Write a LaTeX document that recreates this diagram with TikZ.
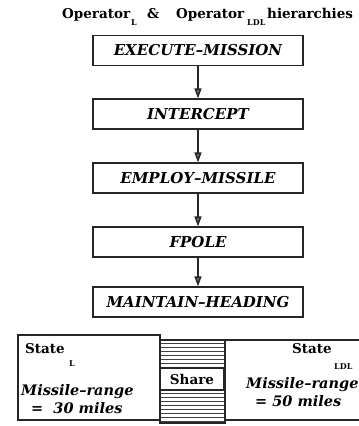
\documentclass[tikz,border=0pt]{standalone}
\usepackage{fontspec}
\setmainfont{DejaVu Serif}
\usetikzlibrary{arrows.meta}
\tikzset{
  lbl/.style={inner sep=0pt, font=\fontsize{15}{17}\selectfont\bfseries\itshape},
  procbox/.style={draw=black!85, line width=1.2pt, minimum width=210pt, minimum height=30pt, inner sep=0pt, lbl},
  flow/.style={draw=black!85, line width=1.4pt, -{Triangle[width=7pt,length=10pt,fill=black!60]}},
  frame/.style={draw=black!85, line width=1.2pt, inner sep=0pt},
  ttl/.style={inner sep=0pt, anchor=base west, font=\fontsize{13.5}{15}\selectfont\bfseries},
  sub/.style={inner sep=0pt, anchor=base west, font=\fontsize{8}{9}\selectfont\bfseries},
  stxt/.style={inner sep=0pt, anchor=base west, font=\fontsize{13.5}{15}\selectfont\bfseries},
  itxt/.style={inner sep=0pt, anchor=base west, font=\fontsize{14.5}{16}\selectfont\bfseries\itshape},
  hatch/.style={draw=black!75, line width=0.8pt}
}
\begin{document}
\begin{tikzpicture}[x=1pt,y=-1pt]
\useasboundingbox (0,0) rectangle (359,426);
% title
\node[ttl] (t1) at (62,18) {Operator};
\node[sub] (s1) at (131,25) {L};
\node[ttl] (amp) at (147,18) {\&};
\node[ttl] (t2) at (176,18) {Operator};
\node[sub] (s2) at (247,25) {LDL};
\node[ttl] (t3) at (267,18) {hierarchies};
% hierarchy boxes
\node[procbox] (b1) at (198,50.5) {EXECUTE--MISSION};
\node[procbox] (b2) at (198,114) {INTERCEPT};
\node[procbox] (b3) at (198,178) {EMPLOY--MISSILE};
\node[procbox] (b4) at (198,242) {FPOLE};
\node[procbox] (b5) at (198,302) {MAINTAIN--HEADING};
\draw[flow] (b1) -- (b2);
\draw[flow] (b2) -- (b3);
\draw[flow] (b3) -- (b4);
\draw[flow] (b4) -- (b5);
% state boxes
\node[frame, minimum width=142pt, minimum height=85pt] (stL) at (89,377.5) {};
\node[frame, minimum width=145pt, minimum height=80pt] (stR) at (297.5,380) {};
\node[frame, minimum width=65pt, minimum height=83pt] (col) at (192.5,381.5) {};
\foreach \yy in {343,347,...,366} \draw[hatch] (161,\yy) -- (224,\yy);
\foreach \yy in {393,397,...,421} \draw[hatch] (161,\yy) -- (224,\yy);
\node[frame, fill=white, minimum width=63pt, minimum height=22pt, font=\fontsize{13.5}{15}\selectfont\bfseries] (share) at (192,379) {Share};
% texts left
\node[stxt] (sl) at (25,353) {State};
\node[sub] (sl2) at (69,366) {L};
\node[itxt] (ml) at (21,395) {Missile--range};
\node[itxt] (vl) at (31,413) {= ~30 miles};
% texts right
\node[stxt] (sr) at (292,353) {State};
\node[sub] (sr2) at (334,369) {LDL};
\node[itxt] (mr) at (246,388) {Missile--range};
\node[itxt] (vr) at (255,406) {= 50 miles};
\end{tikzpicture}
\end{document}
